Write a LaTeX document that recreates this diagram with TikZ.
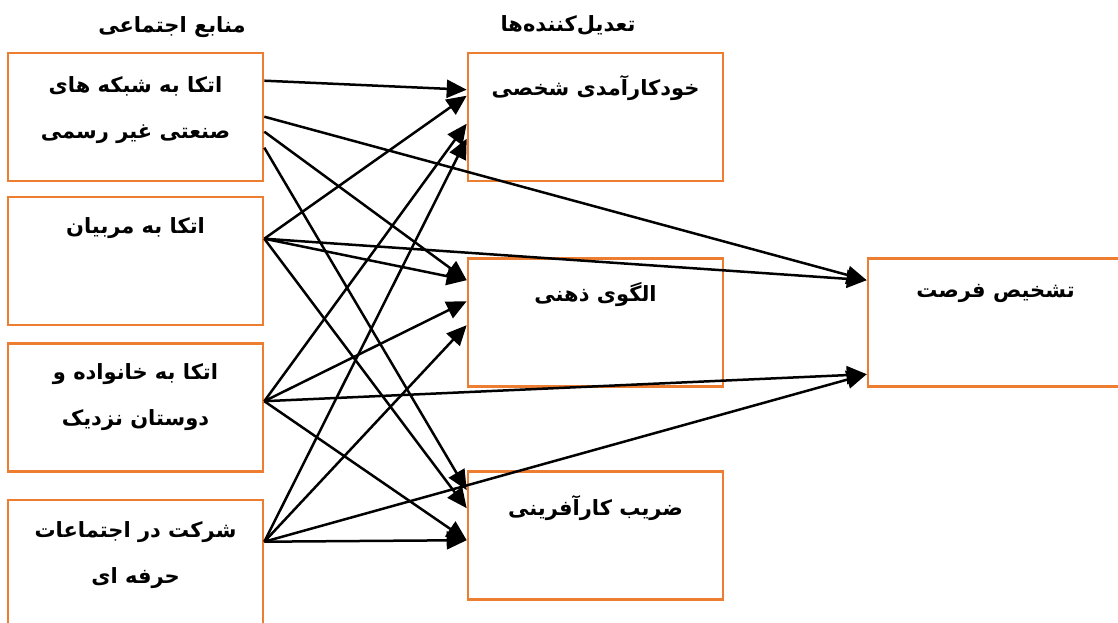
\documentclass[tikz,border=0pt]{standalone}
\usepackage{fontspec}
\newfontfamily\farsi[Script=Arabic,BoldFont={DejaVu Sans Bold}]{DejaVu Sans}
\TeXXeTstate=1
\usetikzlibrary{arrows.meta}
\definecolor{boxorange}{HTML}{ED7D31}

\begin{document}
\begin{tikzpicture}[x=1pt,y=-1pt,
  box/.style={draw=boxorange, line width=2.6pt, minimum width=255pt,
              minimum height=128pt, inner sep=0pt},
  lbl/.style={font=\farsi\bfseries\fontsize{21}{46}\selectfont,
              align=center, inner sep=0pt},
  link/.style={line width=2.5pt, -{Triangle[length=20pt,width=18pt]}}
]
\clip (0,0) rectangle (1118,623);
\useasboundingbox (0,0) rectangle (1118,623);

% column headings
\node[lbl] (h1) at (172,27) {\beginR منابع اجتماعی\endR};
\node[lbl] (h2) at (568,25) {\beginR تعدیل‌کننده‌ها\endR};

% social resources
\node[box] (b1) at (135.5,117) {};
\node[box] (b2) at (135.5,261) {};
\node[box] (b3) at (135.5,407.5) {};
\node[box] (b4) at (135.5,564) {};

% moderators
\node[box] (m1) at (595.5,117) {};
\node[box] (m2) at (595.5,322.5) {};
\node[box] (m3) at (595.5,535.5) {};

% outcome
\node[box] (r) at (995.5,322.5) {};

% box texts
\node[lbl] (t1) at (135.5,110) {\beginR اتکا به شبکه های\endR\\\beginR صنعتی غیر رسمی\endR};
\node[lbl] (t2) at (135.5,228) {\beginR اتکا به مربیان\endR};
\node[lbl] (t3) at (135.5,397) {\beginR اتکا به خانواده و\endR\\\beginR دوستان نزدیک\endR};
\node[lbl] (t4) at (135.5,555) {\beginR شرکت در اجتماعات\endR\\\beginR حرفه ای\endR};
\node[lbl] (tm1) at (595.5,88) {\beginR خودکارآمدی شخصی\endR};
\node[lbl] (tm2) at (595.5,295) {\beginR الگوی ذهنی\endR};
\node[lbl] (tm3) at (595.5,508) {\beginR ضریب کارآفرینی\endR};
\node[lbl] (tr) at (995.5,293) {\beginR تشخیص فرصت\endR};

% links from the first source
\draw[link] ([yshift=-29pt]b1.north east) -- ([yshift=-38pt]m1.north west);
\draw[link] ([yshift=-65pt]b1.north east) -- ([yshift=-23pt]r.north west);
\draw[link] ([yshift=-80pt]b1.north east) -- ([yshift=-23pt]m2.north west);
\draw[link] ([yshift=-96pt]b1.north east) -- ([yshift=-20pt]m3.north west);

% links from the second source
\draw[link] ([yshift=-43pt]b2.north east) -- ([yshift=-44pt]m1.north west);
\draw[link] ([yshift=-43pt]b2.north east) -- ([yshift=-23pt]m2.north west);
\draw[link] ([yshift=-43pt]b2.north east) -- ([yshift=-23pt]r.north west);
\draw[link] ([yshift=-43pt]b2.north east) -- ([yshift=-38pt]m3.north west);

% links from the third source
\draw[link] ([yshift=-59pt]b3.north east) -- ([yshift=-72pt]m1.north west);
\draw[link] ([yshift=-59pt]b3.north east) -- ([yshift=-44pt]m2.north west);
\draw[link] ([yshift=-59pt]b3.north east) -- ([yshift=-117pt]r.north west);
\draw[link] ([yshift=-59pt]b3.north east) -- ([yshift=-70pt]m3.north west);

% links from the fourth source
\draw[link] ([yshift=-43pt]b4.north east) -- ([yshift=-87pt]m1.north west);
\draw[link] ([yshift=-43pt]b4.north east) -- ([yshift=-68pt]m2.north west);
\draw[link] ([yshift=-43pt]b4.north east) -- ([yshift=-117pt]r.north west);
\draw[link] ([yshift=-43pt]b4.north east) -- ([yshift=-70pt]m3.north west);
\end{tikzpicture}
\end{document}
